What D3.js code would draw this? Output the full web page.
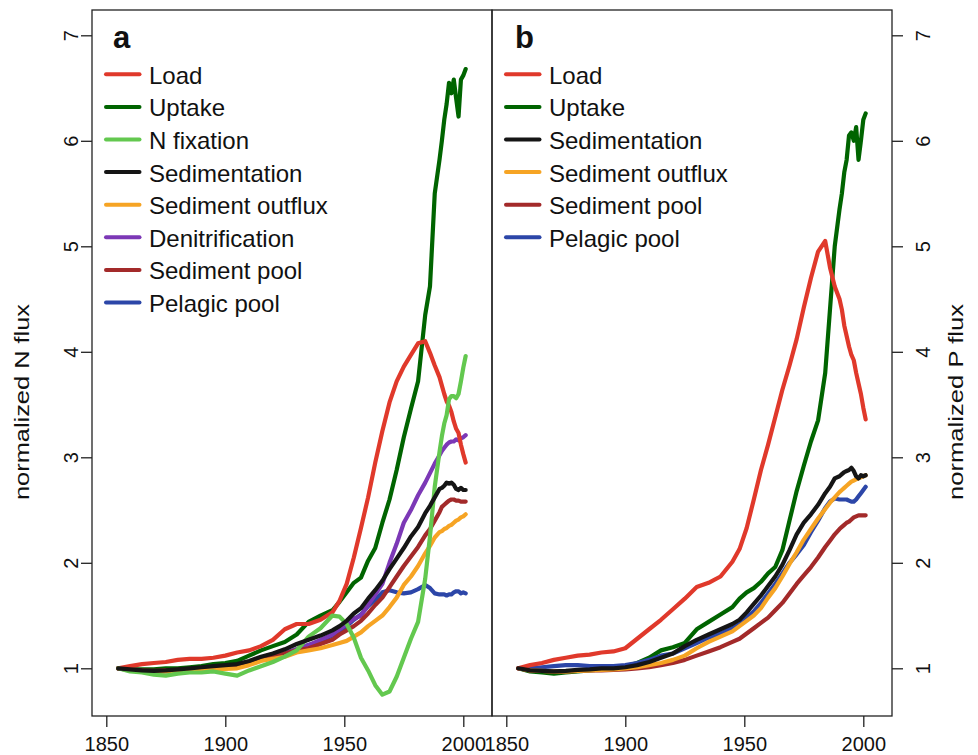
<!DOCTYPE html>
<html>
<head>
<meta charset="utf-8">
<script src="https://cdn.jsdelivr.net/npm/d3@7"></script>
<style>
  body { margin: 0; background: #fff; }
  svg { display: block; font-family: "Liberation Sans", Arial, sans-serif; }
</style>
</head>
<body>
<div id="chart"></div>
<script>
// sample years (both panels)
const years = [1855, 1860, 1865, 1870, 1875, 1880, 1885, 1890, 1895, 1900, 1905, 1910, 1915, 1920, 1925, 1930, 1935, 1940, 1945,
  1948, 1951, 1954, 1957, 1960, 1963, 1966, 1969, 1972, 1975, 1978, 1981, 1984, 1986, 1988,
  1990, 1991, 1992, 1993, 1994, 1995, 1996, 1997, 1998, 1999, 2000, 2001];

// panel a : nitrogen
const loadN = [1.0, 1.02, 1.04, 1.05, 1.06, 1.08, 1.09, 1.09, 1.10, 1.12, 1.15, 1.17, 1.21, 1.27, 1.37, 1.42, 1.42, 1.46, 1.53,
  1.64, 1.80, 2.05, 2.33, 2.62, 2.95, 3.25, 3.52, 3.72, 3.86, 3.97, 4.08, 4.10, 3.99, 3.87,
  3.76, 3.68, 3.60, 3.53, 3.49, 3.43, 3.34, 3.27, 3.23, 3.12, 3.03, 2.95];
const uptakeN = [1.0, 0.99, 0.99, 0.99, 1.0, 1.0, 1.01, 1.02, 1.04, 1.05, 1.07, 1.12, 1.17, 1.21, 1.25, 1.32, 1.44, 1.50, 1.55,
  1.63, 1.72, 1.81, 1.86, 2.02, 2.14, 2.38, 2.60, 2.88, 3.19, 3.46, 3.72, 4.35, 4.62, 5.50,
  5.82, 6.00, 6.20, 6.35, 6.55, 6.45, 6.58, 6.40, 6.23, 6.58, 6.62, 6.68];
const fixationN = [1.0, 0.97, 0.96, 0.94, 0.93, 0.95, 0.96, 0.96, 0.97, 0.95, 0.93, 0.98, 1.02, 1.06, 1.11, 1.17, 1.30, 1.38, 1.50,
  1.49, 1.42, 1.29, 1.10, 0.98, 0.84, 0.75, 0.78, 0.92, 1.10, 1.28, 1.44, 1.85, 2.25, 2.72,
  3.05, 3.20, 3.32, 3.40, 3.55, 3.58, 3.58, 3.56, 3.60, 3.72, 3.85, 3.96];
const sedimentationN = [1.0, 0.99, 0.98, 0.975, 0.98, 0.99, 1.0, 1.01, 1.02, 1.03, 1.04, 1.07, 1.11, 1.14, 1.18, 1.23, 1.27, 1.31, 1.36,
  1.40, 1.45, 1.52, 1.57, 1.66, 1.74, 1.83, 1.94, 2.04, 2.14, 2.25, 2.34, 2.47, 2.54, 2.62,
  2.70, 2.71, 2.73, 2.76, 2.75, 2.76, 2.74, 2.70, 2.69, 2.71, 2.69, 2.69];
const outfluxN = [1.0, 0.98, 0.97, 0.965, 0.97, 0.975, 0.98, 0.985, 0.99, 0.995, 1.0, 1.03, 1.07, 1.09, 1.11, 1.15, 1.17, 1.19, 1.22,
  1.24, 1.26, 1.30, 1.34, 1.40, 1.45, 1.50, 1.58, 1.67, 1.79, 1.87, 1.97, 2.09, 2.16, 2.24,
  2.29, 2.30, 2.32, 2.33, 2.35, 2.36, 2.38, 2.40, 2.41, 2.43, 2.44, 2.46];
const denitrificationN = [1.0, 0.98, 0.97, 0.965, 0.97, 0.98, 0.99, 1.0, 1.0, 1.01, 1.02, 1.05, 1.08, 1.11, 1.14, 1.18, 1.22, 1.27, 1.32,
  1.37, 1.42, 1.47, 1.50, 1.60, 1.70, 1.80, 2.00, 2.18, 2.38, 2.50, 2.64, 2.76, 2.85, 2.94,
  3.02, 3.06, 3.09, 3.12, 3.14, 3.15, 3.15, 3.17, 3.16, 3.18, 3.19, 3.21];
const sedPoolN = [1.0, 0.99, 0.98, 0.975, 0.98, 0.985, 0.99, 1.0, 1.01, 1.02, 1.03, 1.05, 1.08, 1.11, 1.14, 1.17, 1.19, 1.23, 1.27,
  1.32, 1.36, 1.40, 1.45, 1.52, 1.60, 1.67, 1.77, 1.87, 1.97, 2.06, 2.15, 2.26, 2.32, 2.40,
  2.48, 2.53, 2.55, 2.57, 2.59, 2.60, 2.60, 2.59, 2.59, 2.58, 2.58, 2.58];
const pelagicN = [1.0, 0.985, 0.975, 0.97, 0.975, 0.98, 0.99, 1.0, 1.0, 1.01, 1.02, 1.05, 1.08, 1.11, 1.14, 1.18, 1.22, 1.26, 1.31,
  1.35, 1.40, 1.46, 1.51, 1.59, 1.65, 1.72, 1.74, 1.72, 1.71, 1.72, 1.75, 1.79, 1.76, 1.71,
  1.70, 1.70, 1.70, 1.69, 1.70, 1.70, 1.72, 1.73, 1.73, 1.71, 1.72, 1.71];

// panel b : phosphorus
const loadP = [1.0, 1.03, 1.05, 1.08, 1.10, 1.12, 1.13, 1.15, 1.16, 1.19, 1.28, 1.37, 1.46, 1.56, 1.66, 1.77, 1.81, 1.87, 2.01,
  2.13, 2.33, 2.60, 2.88, 3.12, 3.38, 3.64, 3.87, 4.12, 4.42, 4.70, 4.95, 5.05, 4.80, 4.62,
  4.50, 4.40, 4.25, 4.15, 4.05, 3.97, 3.92, 3.80, 3.70, 3.60, 3.47, 3.36];
const uptakeP = [1.0, 0.97, 0.96, 0.95, 0.96, 0.97, 0.98, 0.99, 1.0, 1.02, 1.05, 1.10, 1.17, 1.20, 1.24, 1.37, 1.44, 1.51, 1.58,
  1.66, 1.72, 1.76, 1.82, 1.90, 1.96, 2.12, 2.40, 2.68, 2.92, 3.15, 3.35, 3.80, 4.40, 5.00,
  5.35, 5.50, 5.70, 5.82, 6.05, 6.08, 6.00, 6.13, 5.82, 6.00, 6.20, 6.26];
const sedimentationP = [1.0, 0.98, 0.975, 0.97, 0.975, 0.985, 0.99, 1.0, 1.0, 1.01, 1.03, 1.06, 1.10, 1.14, 1.21, 1.27, 1.32, 1.37, 1.42,
  1.46, 1.53, 1.61, 1.69, 1.78, 1.87, 1.98, 2.12, 2.27, 2.38, 2.46, 2.55, 2.66, 2.72, 2.80,
  2.82, 2.84, 2.86, 2.87, 2.88, 2.90, 2.87, 2.82, 2.80, 2.83, 2.82, 2.83];
const outfluxP = [1.0, 0.98, 0.975, 0.97, 0.97, 0.975, 0.98, 0.985, 0.99, 1.0, 1.01, 1.03, 1.05, 1.08, 1.12, 1.19, 1.25, 1.30, 1.35,
  1.40, 1.45, 1.50, 1.57, 1.67, 1.76, 1.87, 1.99, 2.10, 2.22, 2.32, 2.42, 2.51, 2.57, 2.62,
  2.67, 2.69, 2.71, 2.73, 2.75, 2.77, 2.78, 2.79, 2.80, 2.81, 2.82, 2.83];
const sedPoolP = [1.0, 0.98, 0.975, 0.97, 0.97, 0.975, 0.98, 0.98, 0.985, 0.99, 1.0, 1.01, 1.03, 1.05, 1.08, 1.12, 1.16, 1.20, 1.25,
  1.28, 1.33, 1.38, 1.43, 1.48, 1.55, 1.62, 1.71, 1.80, 1.88, 1.96, 2.05, 2.15, 2.21, 2.27,
  2.32, 2.34, 2.36, 2.38, 2.39, 2.41, 2.43, 2.44, 2.45, 2.45, 2.45, 2.45];
const pelagicP = [1.0, 1.0, 1.01, 1.02, 1.03, 1.03, 1.02, 1.02, 1.02, 1.03, 1.05, 1.08, 1.12, 1.14, 1.19, 1.24, 1.29, 1.33, 1.38,
  1.42, 1.48, 1.54, 1.62, 1.71, 1.80, 1.90, 2.00, 2.08, 2.17, 2.29, 2.40, 2.52, 2.58, 2.61,
  2.60, 2.60, 2.60, 2.60, 2.59, 2.58, 2.58, 2.60, 2.63, 2.66, 2.69, 2.72];

const xTicks = [1850, 1900, 1950, 2000];
const yTicks = [1, 2, 3, 4, 5, 6, 7];

const colors = {
  'Load': '#e0392b',
  'Uptake': '#006400',
  'N fixation': '#63c84f',
  'Sedimentation': '#151515',
  'Sediment outflux': '#f6a424',
  'Denitrification': '#7c38b6',
  'Sediment pool': '#a32a2a',
  'Pelagic pool': '#2c46a8'
};

const W = 978, H = 755;
const plotTop = 10, plotBottom = 716;

let svg = d3.select('#chart').append('svg')
  .attr('width', W)
  .attr('height', H);

let y = d3.scaleLinear().domain([1, 7]).range([668.3, 35.3]);

function drawPanel(opts) {
  let x = d3.scaleLinear().domain([1850, 2000]).range([opts.left + 14.3, opts.left + 371.3]);
  let g = svg.append('g');

  let line = d3.line()
    .x((d, i) => x(years[i]))
    .y(d => y(d));

  // draw order (last on top)
  opts.order.forEach(name => {
    let s = opts.series.find(s => s.name === name);
    g.append('path')
      .attr('d', line(s.values))
      .attr('fill', 'none')
      .attr('stroke', colors[s.name])
      .attr('stroke-width', 4.2)
      .attr('stroke-linejoin', 'round')
      .attr('stroke-linecap', 'round');
  });

  // box
  g.append('rect')
    .attr('x', opts.left)
    .attr('y', plotTop)
    .attr('width', 400)
    .attr('height', plotBottom - plotTop)
    .attr('fill', 'none')
    .attr('stroke', '#222')
    .attr('stroke-width', 1.3);

  // x axis
  let xa = g.append('g')
    .attr('transform', `translate(0,${plotBottom})`)
    .call(d3.axisBottom(x).tickValues(xTicks).tickFormat(d3.format('d')).tickSize(11).tickSizeOuter(0));
  xa.select('.domain').remove();
  xa.selectAll('line').attr('stroke', '#222').attr('stroke-width', 1.3);
  xa.selectAll('text')
    .attr('y', 35)
    .attr('dy', 0)
    .attr('fill', '#111')
    .style('font-size', '20px')
    .style('font-family', '"Liberation Sans", Arial, sans-serif');

  // y axis
  let axis = opts.side === 'left' ? d3.axisLeft(y) : d3.axisRight(y);
  let ya = g.append('g')
    .attr('transform', `translate(${opts.side === 'left' ? opts.left : opts.left + 400},0)`)
    .call(axis.tickValues(yTicks).tickFormat(d3.format('d')).tickSize(11).tickSizeOuter(0));
  ya.select('.domain').remove();
  ya.selectAll('line').attr('stroke', '#222').attr('stroke-width', 1.3);
  ya.selectAll('text')
    .attr('x', 0)
    .attr('dy', 0)
    .attr('text-anchor', 'middle')
    .attr('transform', opts.side === 'left' ? 'translate(-14,0) rotate(-90)' : 'translate(38,0) rotate(-90)')
    .attr('fill', '#111')
    .style('font-size', '20px')
    .style('font-family', '"Liberation Sans", Arial, sans-serif');

  // axis title
  let tx = opts.side === 'left' ? 29 : 963;
  svg.append('text')
    .attr('transform', `translate(${tx},402) rotate(-90)`)
    .attr('text-anchor', 'middle')
    .attr('textLength', 196)
    .attr('lengthAdjust', 'spacingAndGlyphs')
    .style('font-size', '21px')
    .attr('fill', '#111')
    .text(opts.title);

  // panel letter
  g.append('text')
    .attr('x', opts.left + opts.letterDx)
    .attr('y', 48)
    .style('font-size', '31px')
    .style('font-weight', 'bold')
    .attr('fill', '#111')
    .text(opts.letter);

  // legend
  let leg = g.selectAll('.leg')
    .data(opts.series)
    .enter()
    .append('g')
    .attr('transform', (d, i) => `translate(${opts.left},${74.3 + i * 32.6})`);
  leg.append('line')
    .attr('x1', 14).attr('x2', 47.5)
    .attr('y1', 0).attr('y2', 0)
    .attr('stroke', d => colors[d.name])
    .attr('stroke-width', 4)
    .attr('stroke-linecap', 'round');
  leg.append('text')
    .attr('x', 57)
    .attr('y', 9.5)
    .style('font-size', '24px')
    .attr('fill', '#111')
    .text(d => d.name);
}

drawPanel({
  left: 92,
  side: 'left',
  letter: 'a',
  letterDx: 21,
  title: 'normalized N flux',
  series: [
    {name: 'Load', values: loadN},
    {name: 'Uptake', values: uptakeN},
    {name: 'N fixation', values: fixationN},
    {name: 'Sedimentation', values: sedimentationN},
    {name: 'Sediment outflux', values: outfluxN},
    {name: 'Denitrification', values: denitrificationN},
    {name: 'Sediment pool', values: sedPoolN},
    {name: 'Pelagic pool', values: pelagicN}
  ],
  order: ['Uptake', 'Pelagic pool', 'Denitrification', 'Sediment pool', 'Sediment outflux', 'Load', 'N fixation', 'Sedimentation']
});

drawPanel({
  left: 492,
  side: 'right',
  letter: 'b',
  letterDx: 23,
  title: 'normalized P flux',
  series: [
    {name: 'Load', values: loadP},
    {name: 'Uptake', values: uptakeP},
    {name: 'Sedimentation', values: sedimentationP},
    {name: 'Sediment outflux', values: outfluxP},
    {name: 'Sediment pool', values: sedPoolP},
    {name: 'Pelagic pool', values: pelagicP}
  ],
  order: ['Uptake', 'Sediment pool', 'Pelagic pool', 'Sediment outflux', 'Load', 'Sedimentation']
});
</script>
</body>
</html>
